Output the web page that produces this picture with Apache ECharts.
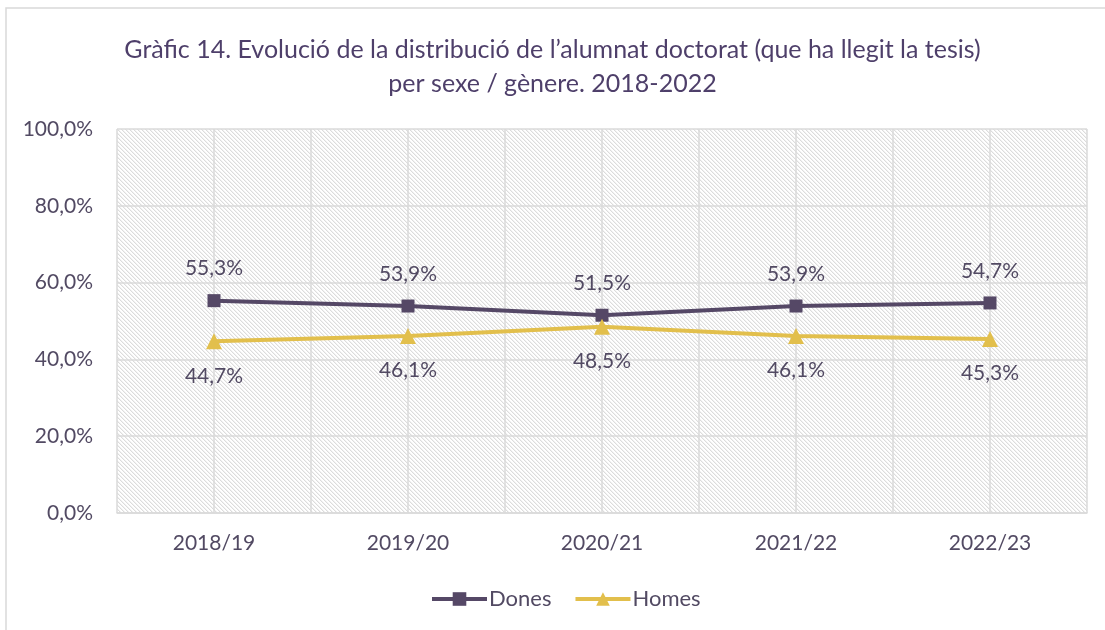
<!DOCTYPE html>
<html>
<head>
<meta charset="utf-8">
<script src="https://cdn.jsdelivr.net/npm/echarts@6/dist/echarts.min.js"></script>
<style>
  html, body { margin: 0; padding: 0; background: #fff; }
  #chart { width: 1105px; height: 630px; }
</style>
</head>
<body>
<div id="chart"></div>
<script>
// data
const years = ['2018/19', '2019/20', '2020/21', '2021/22', '2022/23'];
const dones = [55.3, 53.9, 51.5, 53.9, 54.7];
const homes = [44.7, 46.1, 48.5, 46.1, 45.3];
const titleLines = [
  'Gràfic 14. Evolució de la distribució de l’alumnat doctorat (que ha llegit la tesis)',
  'per sexe / gènere. 2018-2022'
];

const textColor = '#524a63';
const gridColor = '#dadada';
const font = 'Lato, "Open Sans", sans-serif';

// diagonal hatch for the plot background
const hatch = document.createElement('canvas');
hatch.width = 4;
hatch.height = 4;
const hctx = hatch.getContext('2d');
hctx.fillStyle = '#ffffff';
hctx.fillRect(0, 0, 4, 4);
for (let i = 0; i < 4; i++) {
  hctx.fillStyle = '#dcdcdc';
  hctx.fillRect(i, i, 1, 1);
  hctx.fillStyle = '#f2f2f2';
  hctx.fillRect((i + 1) % 4, i, 1, 1);
}

const pct = v => v.toFixed(1).replace('.', ',') + '%';

// half-step categories, only used for the vertical grid lines
const halfSteps = [];
years.forEach(() => halfSteps.push('', ''));

const chart = echarts.init(document.getElementById('chart'));

chart.setOption({
  animation: false,
  textStyle: { fontFamily: font },
  title: {
    text: titleLines.join('\n'),
    left: 'center',
    top: 28,
    textStyle: {
      fontFamily: font,
      fontSize: 25,
      fontWeight: 'normal',
      color: '#4e3f6a',
      lineHeight: 34
    }
  },
  graphic: [{
    type: 'rect',
    silent: true,
    shape: { x: 6, y: 8, width: 1200, height: 700 },
    style: { fill: 'none', stroke: '#d9d9d9', lineWidth: 1.5 }
  }],
  grid: {
    left: 117,
    right: 18,
    top: 129,
    bottom: 117,
    show: true,
    borderWidth: 0,
    backgroundColor: { image: hatch, repeat: 'repeat' }
  },
  legend: {
    bottom: 15,
    left: 425,
    itemWidth: 55,
    itemHeight: 17,
    itemGap: 22,
    lineStyle: { width: 4 },
    textStyle: { color: textColor, fontSize: 22, fontFamily: font, padding: [0, 0, 0, -3] },
    data: ['Dones', 'Homes']
  },
  xAxis: [{
    type: 'category',
    data: years,
    axisLine: { show: true, lineStyle: { color: gridColor, width: 1.5 } },
    axisTick: { show: false },
    splitLine: { show: false },
    axisLabel: { color: textColor, fontSize: 21, margin: 20, fontFamily: font }
  }, {
    type: 'category',
    data: halfSteps,
    position: 'top',
    axisLine: { show: false },
    axisTick: { show: false },
    axisLabel: { show: false },
    splitLine: { show: true, lineStyle: { color: gridColor, width: 1.5 } }
  }],
  yAxis: {
    type: 'value',
    min: 0,
    max: 100,
    interval: 20,
    axisLine: { show: false },
    axisTick: { show: false },
    axisLabel: {
      color: textColor,
      fontSize: 21,
      margin: 24,
      fontFamily: font,
      formatter: v => pct(v)
    },
    splitLine: { show: true, lineStyle: { color: gridColor, width: 1.5 } }
  },
  series: [{
    name: 'Dones',
    type: 'line',
    data: dones,
    symbol: 'rect',
    symbolSize: 13,
    lineStyle: { color: '#554866', width: 4 },
    itemStyle: { color: '#554866' },
    label: {
      show: true,
      position: 'top',
      distance: 15,
      color: textColor,
      fontSize: 21,
      fontFamily: font,
      formatter: p => pct(p.value)
    }
  }, {
    name: 'Homes',
    type: 'line',
    data: homes,
    symbol: 'triangle',
    symbolSize: 16,
    lineStyle: { color: '#e2bf4c', width: 4 },
    itemStyle: { color: '#e2bf4c' },
    label: {
      show: true,
      position: 'bottom',
      distance: 16,
      color: textColor,
      fontSize: 21,
      fontFamily: font,
      formatter: p => pct(p.value)
    }
  }]
});
</script>
</body>
</html>
